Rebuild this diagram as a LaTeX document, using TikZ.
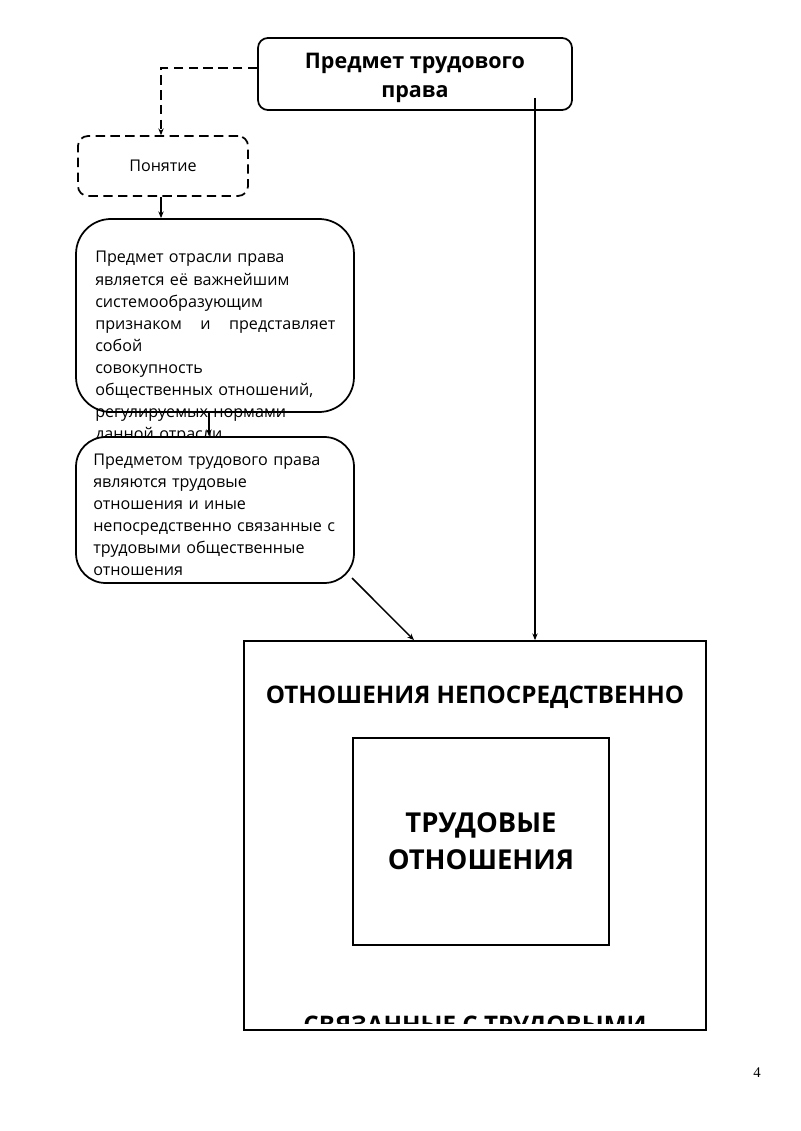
\documentclass[tikz,border=0pt]{standalone}
\usepackage{fontspec}
\setmainfont{Open Sans}
\newfontfamily\pagefont{Liberation Serif}
\usepackage{tikz}
\usetikzlibrary{positioning,calc,arrows.meta}

\begin{document}
\begin{tikzpicture}[x=0.744pt,y=-0.744pt,
  box/.style={draw,line width=1.3pt,rounded corners=7.4pt,inner sep=0pt},
  dashbox/.style={box,dash pattern=on 7pt off 4pt},
  plain/.style={draw,line width=1.3pt,inner sep=0pt},
  para/.style={anchor=base west,inner sep=0pt,align=left,text width=178.6pt,font=\fontsize{12}{16.4}\selectfont},
  link/.style={line width=1.1pt,-{Stealth[length=5pt,width=4pt]}}]
\useasboundingbox (0,0) rectangle (800,1131);
% top of the scheme
\node[box,minimum width=233.6pt,minimum height=53.6pt] (title) at (415,74) {};
\node[align=center,font=\fontsize{16}{21.6}\selectfont\bfseries] (titletext) at (415,78) {Предмет трудового\\права};
\node[dashbox,minimum width=126.5pt,minimum height=44.6pt,
  font=\fontsize{12}{14}\selectfont] (concept) at (163,166) {Понятие};
% definition boxes
\node[box,rounded corners=26pt,minimum width=206.8pt,minimum height=143.6pt] (def) at (215,315.5) {};
\node[para] (deftext) at (95,263) {Предмет отрасли права\\
является её важнейшим\\
системообразующим\\
признаком\hfill и\hfill представляет\\
собой\\
совокупность\\
общественных отношений,\\
регулируемых нормами\\
данной отрасли};
\node[box,rounded corners=22pt,fill=white,minimum width=206.8pt,minimum height=108.6pt] (subj) at (215,510) {};
\node[para,text width=190pt] (subjtext) at (93,465) {Предметом трудового права\\
являются трудовые\\
отношения и иные\\
непосредственно связанные с\\
трудовыми общественные\\
отношения};
% the relations
\node[plain,minimum width=343.7pt,minimum height=289.4pt] (rel) at (475,835.5) {};
\node[font=\fontsize{18}{20}\selectfont\bfseries] (reltop) at (475,697) {ОТНОШЕНИЯ НЕПОСРЕДСТВЕННО};
\node[plain,minimum width=190.5pt,minimum height=154pt,align=center,
  font=\fontsize{20.4}{27.5}\selectfont\bfseries] (labour) at (481,841.5) {ТРУДОВЫЕ\\ОТНОШЕНИЯ};
\begin{scope}
\clip (246,1000) rectangle (704,1023);
\node[anchor=base,inner sep=0pt,font=\fontsize{18}{20}\selectfont\bfseries] (relbot) at (475,1033) {СВЯЗАННЫЕ С ТРУДОВЫМИ};
\end{scope}
\node[font=\pagefont\fontsize{11}{13}\selectfont] (page) at (757,1073) {4};
% connectors
\coordinate (tstart) at (535,98);
\coordinate (sstart) at (352,578);
\draw[link,dash pattern=on 7pt off 4pt] ($(title.west)+(0,-6)$) -| ($(concept.north)+(-2,0)$);
\draw[link] ($(concept.south)+(-2,0)$) -- ($(concept.south |- def.north)+(-2,0)$);
\draw[link] ($(def.south)+(-6,0)$) -- ($(subj.north)+(-6,0)$);
\draw[link] (sstart) -- ($(rel.north)+(-61,0)$);
\draw[link] (tstart) -- (tstart |- rel.north);
\end{tikzpicture}
\end{document}
